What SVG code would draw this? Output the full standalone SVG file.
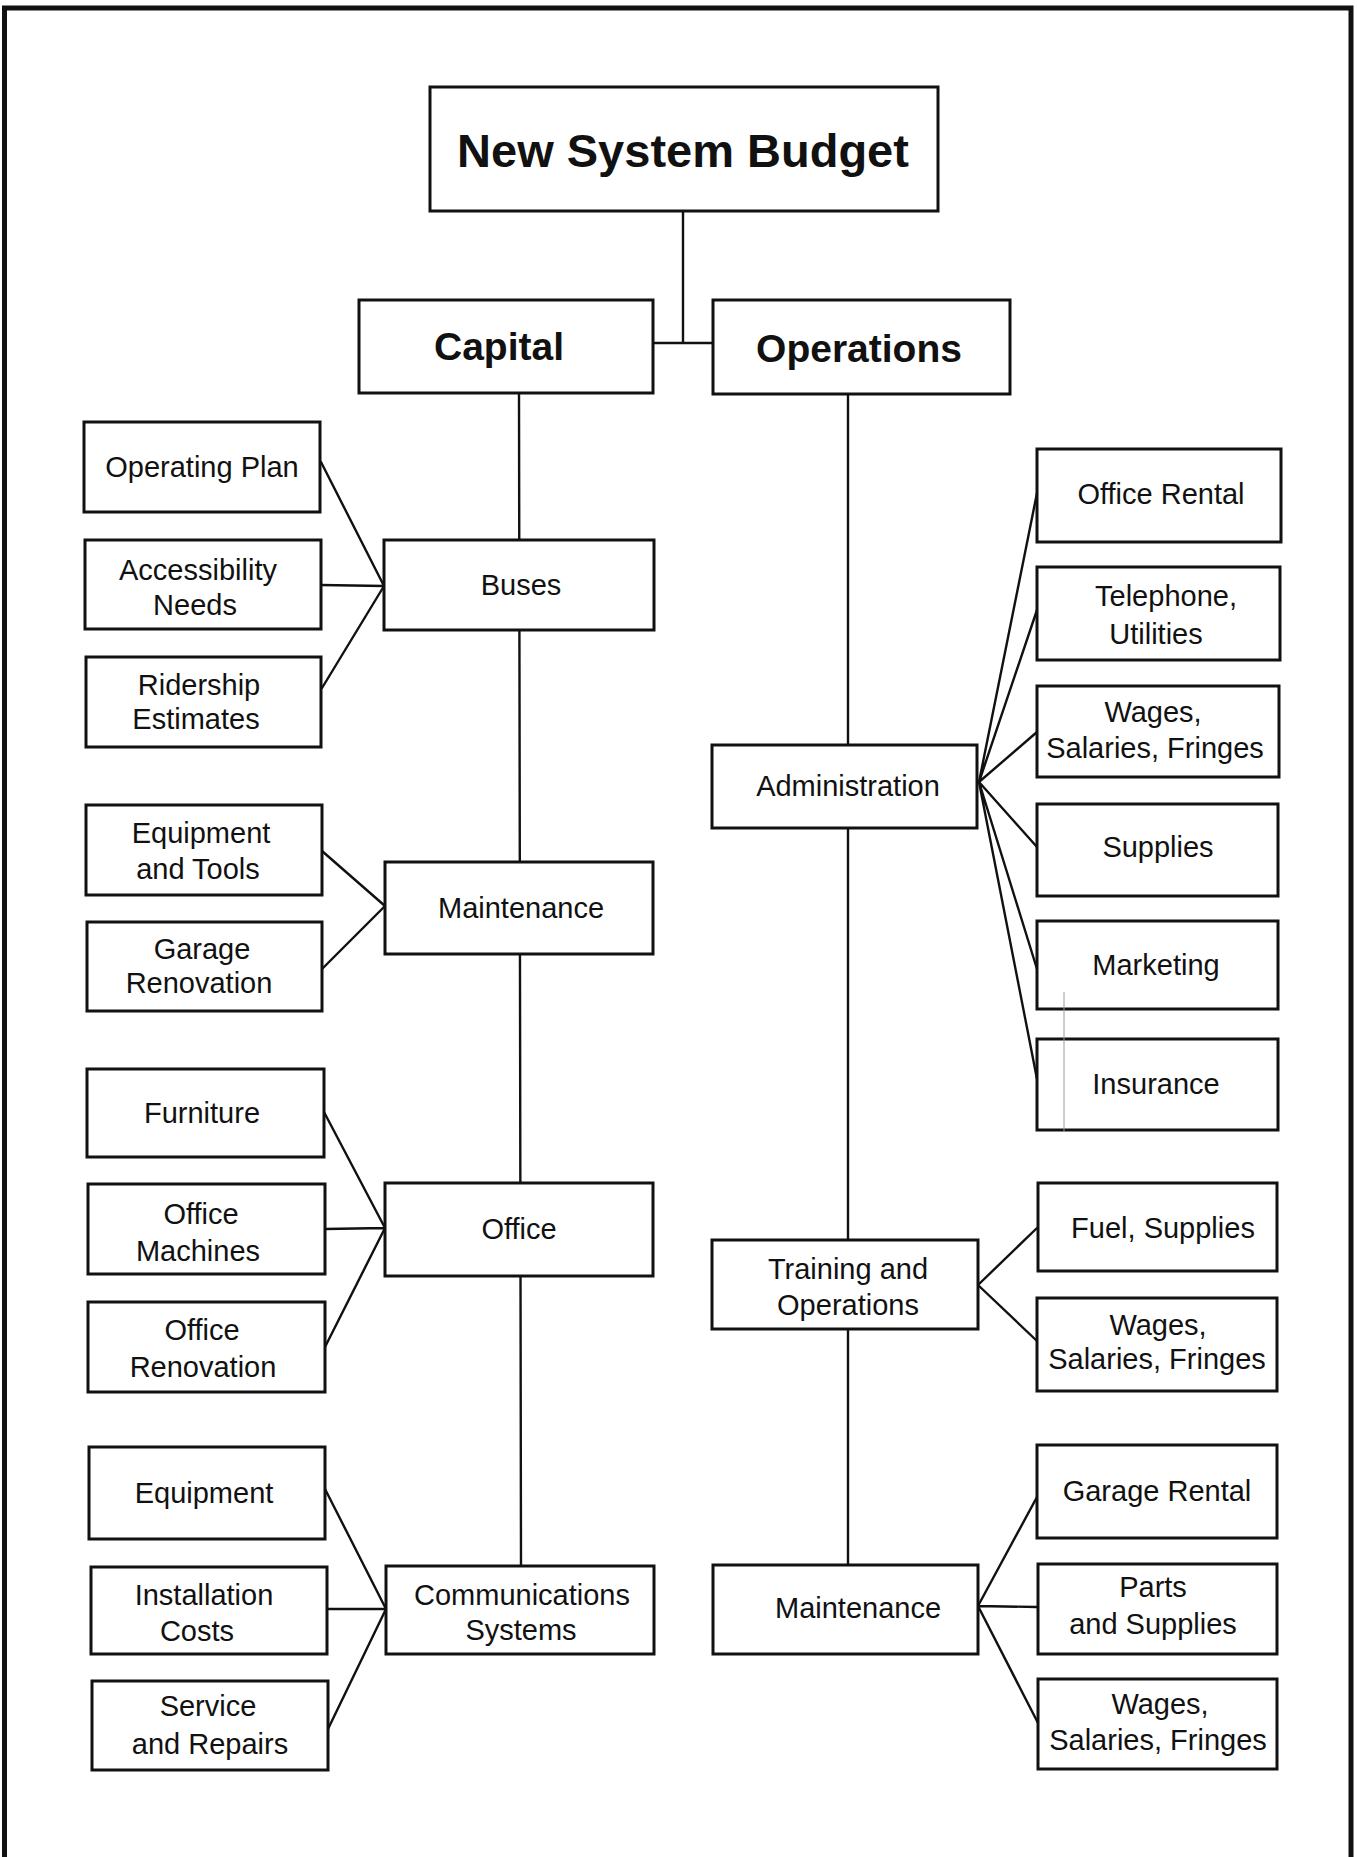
<svg xmlns="http://www.w3.org/2000/svg" width="1357" height="1857" viewBox="0 0 1357 1857">
  <style>
    .frame { fill: none; stroke: #111; stroke-width: 5; }
    .box { fill: #fff; stroke: #111; stroke-width: 3; }
    .link { fill: none; stroke: #111; stroke-width: 2.4; stroke-linecap: round; }
    text { font-family: "Liberation Sans", Arial, sans-serif; fill: #111; text-anchor: middle; }
    .lbl { font-size: 29px; }
    .head { font-size: 39px; font-weight: bold; }
    .title { font-size: 47px; font-weight: bold; }
    .mark { fill: none; stroke: #9a9a9a; stroke-width: 1; }
  </style>

  <rect x="0" y="0" width="1357" height="1857" fill="#fff"/>
  <!-- page border (open at the bottom) -->
  <path class="frame" d="M4.5,1857 V8 H1351 V1857"/>

  <!-- connectors -->
  <g id="connectors" class="link">
    <!-- root to the two branches -->
    <path d="M683,211 V343 M653,343 H713"/>
    <!-- trunks -->
    <path d="M519,393 L521,1566"/>
    <path d="M848,394 V1565"/>
    <!-- Buses -->
    <path d="M321,462 L384,586 M321,585 L384,586 M322,688 L384,586"/>
    <!-- Capital maintenance -->
    <path d="M322,851 L385,906 M322,969 L385,906"/>
    <!-- Office -->
    <path d="M324,1112 L385,1228 M325,1229 L385,1228 M325,1347 L385,1228"/>
    <!-- Communications -->
    <path d="M325,1489 L386,1609 M327,1609 L386,1609 M328,1729 L386,1609"/>
    <!-- Administration -->
    <path d="M979,782 L1037,493 M979,782 L1037,610 M979,782 L1037,732 M979,782 L1037,847 M979,782 L1037,969 M979,782 L1037,1079"/>
    <!-- Training and Operations -->
    <path d="M978,1285 L1037,1228 M978,1285 L1037,1341"/>
    <!-- Operations maintenance -->
    <path d="M978,1606 L1037,1497 M978,1606 L1037,1607 M978,1606 L1038,1723"/>
  </g>

  <!-- top level -->
  <g id="node-budget"><rect class="box" x="430" y="87" width="508" height="124"/><text class="title" x="683" y="167">New System Budget</text></g>
  <g id="node-capital"><rect class="box" x="359" y="300" width="294" height="93"/><text class="head" x="499" y="360">Capital</text></g>
  <g id="node-operations"><rect class="box" x="713" y="300" width="297" height="94"/><text class="head" x="859" y="362">Operations</text></g>

  <!-- capital categories -->
  <g id="node-buses"><rect class="box" x="384" y="540" width="270" height="90"/><text class="lbl" x="521" y="595">Buses</text></g>
  <g id="node-cap-maintenance"><rect class="box" x="385" y="862" width="268" height="92"/><text class="lbl" x="521" y="918">Maintenance</text></g>
  <g id="node-office"><rect class="box" x="385" y="1183" width="268" height="93"/><text class="lbl" x="519" y="1239">Office</text></g>
  <g id="node-communications"><rect class="box" x="386" y="1566" width="268" height="88"/><text class="lbl" x="522" y="1605">Communications</text><text class="lbl" x="521" y="1640">Systems</text></g>

  <!-- capital items -->
  <g id="node-operating-plan"><rect class="box" x="84" y="422" width="236" height="90"/><text class="lbl" x="202" y="477">Operating Plan</text></g>
  <g id="node-accessibility"><rect class="box" x="85" y="540" width="236" height="89"/><text class="lbl" x="198" y="580">Accessibility</text><text class="lbl" x="195" y="615">Needs</text></g>
  <g id="node-ridership"><rect class="box" x="86" y="657" width="235" height="90"/><text class="lbl" x="199" y="695">Ridership</text><text class="lbl" x="196" y="729">Estimates</text></g>
  <g id="node-equipment-tools"><rect class="box" x="86" y="805" width="236" height="90"/><text class="lbl" x="201" y="843">Equipment</text><text class="lbl" x="198" y="879">and Tools</text></g>
  <g id="node-garage-renovation"><rect class="box" x="87" y="922" width="235" height="89"/><text class="lbl" x="202" y="959">Garage</text><text class="lbl" x="199" y="993">Renovation</text></g>
  <g id="node-furniture"><rect class="box" x="87" y="1069" width="237" height="88"/><text class="lbl" x="202" y="1123">Furniture</text></g>
  <g id="node-office-machines"><rect class="box" x="88" y="1184" width="237" height="90"/><text class="lbl" x="201" y="1224">Office</text><text class="lbl" x="198" y="1261">Machines</text></g>
  <g id="node-office-renovation"><rect class="box" x="88" y="1302" width="237" height="90"/><text class="lbl" x="202" y="1340">Office</text><text class="lbl" x="203" y="1377">Renovation</text></g>
  <g id="node-equipment"><rect class="box" x="89" y="1447" width="236" height="92"/><text class="lbl" x="204" y="1503">Equipment</text></g>
  <g id="node-installation"><rect class="box" x="91" y="1567" width="236" height="87"/><text class="lbl" x="204" y="1605">Installation</text><text class="lbl" x="197" y="1641">Costs</text></g>
  <g id="node-service"><rect class="box" x="92" y="1681" width="236" height="89"/><text class="lbl" x="208" y="1716">Service</text><text class="lbl" x="210" y="1754">and Repairs</text></g>

  <!-- operations categories -->
  <g id="node-administration"><rect class="box" x="712" y="745" width="265" height="83"/><text class="lbl" x="848" y="796">Administration</text></g>
  <g id="node-training"><rect class="box" x="712" y="1240" width="266" height="89"/><text class="lbl" x="848" y="1279">Training and</text><text class="lbl" x="848" y="1315">Operations</text></g>
  <g id="node-ops-maintenance"><rect class="box" x="713" y="1565" width="265" height="89"/><text class="lbl" x="858" y="1618">Maintenance</text></g>

  <!-- operations items -->
  <g id="node-office-rental"><rect class="box" x="1037" y="449" width="244" height="93"/><text class="lbl" x="1161" y="504">Office Rental</text></g>
  <g id="node-telephone"><rect class="box" x="1037" y="567" width="243" height="93"/><text class="lbl" x="1166" y="606">Telephone,</text><text class="lbl" x="1156" y="644">Utilities</text></g>
  <g id="node-wages-admin"><rect class="box" x="1037" y="686" width="242" height="91"/><text class="lbl" x="1153" y="722">Wages,</text><text class="lbl" x="1155" y="758">Salaries, Fringes</text></g>
  <g id="node-supplies"><rect class="box" x="1037" y="804" width="241" height="92"/><text class="lbl" x="1158" y="857">Supplies</text></g>
  <g id="node-marketing"><rect class="box" x="1037" y="921" width="241" height="88"/><text class="lbl" x="1156" y="975">Marketing</text></g>
  <g id="node-insurance"><rect class="box" x="1037" y="1039" width="241" height="91"/><text class="lbl" x="1156" y="1094">Insurance</text></g>
  <g id="node-fuel"><rect class="box" x="1038" y="1183" width="239" height="88"/><text class="lbl" x="1163" y="1238">Fuel, Supplies</text></g>
  <g id="node-wages-training"><rect class="box" x="1037" y="1298" width="240" height="93"/><text class="lbl" x="1158" y="1335">Wages,</text><text class="lbl" x="1157" y="1369">Salaries, Fringes</text></g>
  <g id="node-garage-rental"><rect class="box" x="1037" y="1445" width="240" height="93"/><text class="lbl" x="1157" y="1501">Garage Rental</text></g>
  <g id="node-parts"><rect class="box" x="1038" y="1564" width="239" height="90"/><text class="lbl" x="1153" y="1597">Parts</text><text class="lbl" x="1153" y="1634">and Supplies</text></g>
  <g id="node-wages-maintenance"><rect class="box" x="1038" y="1679" width="239" height="90"/><text class="lbl" x="1160" y="1714">Wages,</text><text class="lbl" x="1158" y="1750">Salaries, Fringes</text></g>

  <!-- thin stray rule across the Marketing / Insurance boxes -->
  <path class="mark" d="M1064,992 V1132"/>
</svg>
